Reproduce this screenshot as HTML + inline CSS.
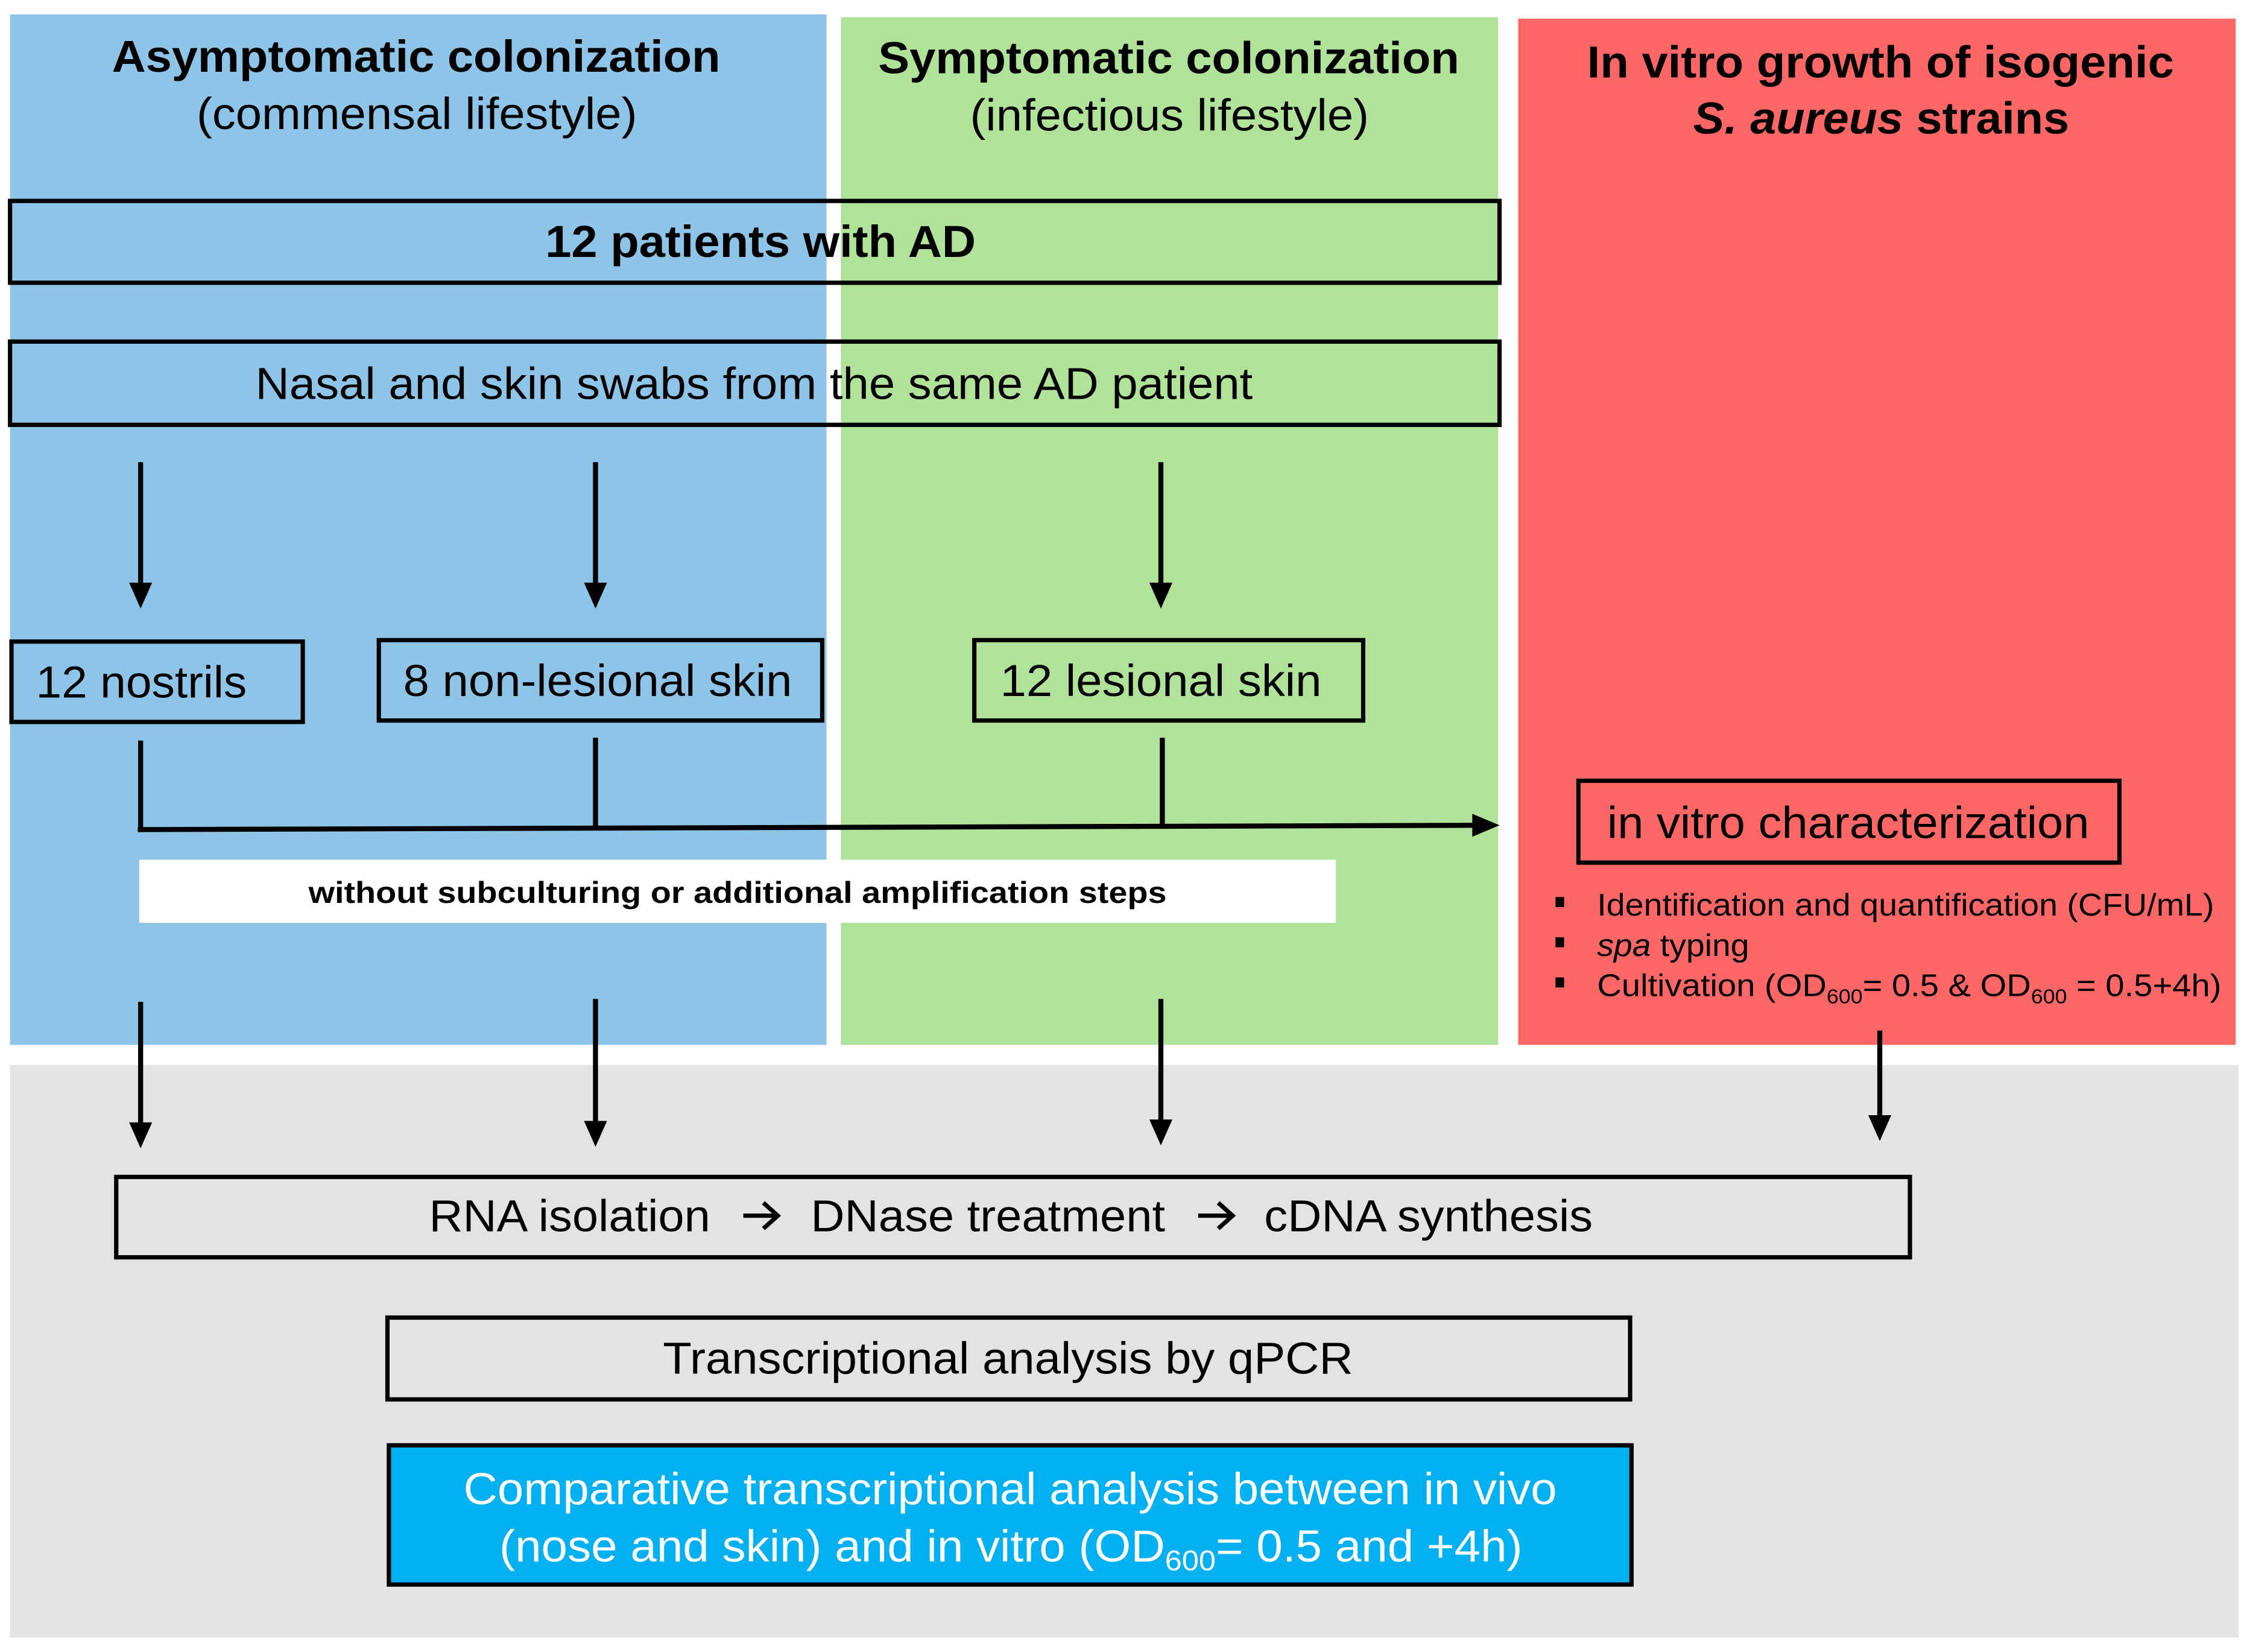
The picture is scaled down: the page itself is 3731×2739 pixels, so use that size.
<!DOCTYPE html>
<html><head><meta charset="utf-8"><style>html,body{margin:0;padding:0;background:#fff}svg{display:block}</style></head>
<body>
<svg xmlns="http://www.w3.org/2000/svg" width="3731" height="2739" viewBox="0 0 1568 1151" preserveAspectRatio="none" font-family="Liberation Sans, Arial, sans-serif">
<rect x="0" y="0" width="1568" height="1151" fill="#fff"/>
<rect x="7" y="10" width="569" height="718" fill="#8EC4E8"/>
<rect x="586" y="12" width="458" height="716" fill="#B0E399"/>
<rect x="1058" y="13" width="500" height="715" fill="#FF6666"/>
<rect x="7" y="742" width="1553" height="399" fill="#E3E3E3"/>

<g font-size="31" text-anchor="start" fill="#000">
<text x="78" y="50" font-weight="bold" textLength="424" lengthAdjust="spacingAndGlyphs">Asymptomatic colonization</text>
<text x="137" y="90" textLength="307" lengthAdjust="spacingAndGlyphs">(commensal lifestyle)</text>
<text x="612" y="51" font-weight="bold" textLength="405" lengthAdjust="spacingAndGlyphs">Symptomatic colonization</text>
<text x="676" y="91" textLength="278" lengthAdjust="spacingAndGlyphs">(infectious lifestyle)</text>
<text x="1106" y="54" font-weight="bold" textLength="409" lengthAdjust="spacingAndGlyphs">In vitro growth of isogenic</text>
<text x="1180" y="93" font-weight="bold" textLength="262" lengthAdjust="spacingAndGlyphs"><tspan font-style="italic">S. aureus</tspan> strains</text>
</g>

<g fill="none" stroke="#000" stroke-width="3">
<rect x="7" y="140" width="1038" height="57"/>
<rect x="7" y="238" width="1038" height="58"/>
<rect x="8" y="447" width="203" height="56"/>
<rect x="264" y="446" width="309" height="56"/>
<rect x="679" y="446" width="271" height="56"/>
<rect x="1100" y="544" width="377" height="57"/>
<rect x="81" y="820" width="1250" height="56"/>
<rect x="270" y="918" width="866" height="57"/>
</g>
<rect x="271" y="1007" width="866" height="97" fill="#00B0F0" stroke="#000" stroke-width="3"/>
<rect x="97" y="599" width="834" height="44" fill="#fff"/>

<g font-size="31" fill="#000">
<text x="380" y="179" font-weight="bold" textLength="300" lengthAdjust="spacingAndGlyphs">12 patients with AD</text>
<text x="178" y="278" textLength="695" lengthAdjust="spacingAndGlyphs">Nasal and skin swabs from the same AD patient</text>
<text x="25" y="486" textLength="147" lengthAdjust="spacingAndGlyphs">12 nostrils</text>
<text x="281" y="485" textLength="271" lengthAdjust="spacingAndGlyphs">8 non-lesional skin</text>
<text x="697" y="485" textLength="224" lengthAdjust="spacingAndGlyphs">12 lesional skin</text>
<text x="1120" y="584" textLength="336" lengthAdjust="spacingAndGlyphs">in vitro characterization</text>
<text x="299" y="858" textLength="196" lengthAdjust="spacingAndGlyphs">RNA isolation</text>
<text x="565" y="858" textLength="247" lengthAdjust="spacingAndGlyphs">DNase treatment</text>
<text x="881" y="858" textLength="229" lengthAdjust="spacingAndGlyphs">cDNA synthesis</text>
<text x="462" y="957" textLength="481" lengthAdjust="spacingAndGlyphs">Transcriptional analysis by qPCR</text>
</g>
<g stroke="#000" stroke-width="3" fill="none">
<path d="M518 847 H541 M532 838 L542 847 L532 856"/>
<path d="M835 847 H858 M849 838 L859 847 L849 856"/>
</g>
<text x="215" y="629" font-size="21" font-weight="bold" textLength="598" lengthAdjust="spacingAndGlyphs">without subculturing or additional amplification steps</text>
<g font-size="31" fill="#fff">
<text x="323" y="1048" textLength="762" lengthAdjust="spacingAndGlyphs">Comparative transcriptional analysis between in vivo</text>
<text x="348" y="1088" textLength="713" lengthAdjust="spacingAndGlyphs">(nose and skin) and in vitro (OD<tspan font-size="20" dy="6">600</tspan><tspan dy="-6">= 0.5 and +4h)</tspan></text>
</g>

<g font-size="22" fill="#000">
<rect x="1084" y="625" width="6" height="7"/>
<rect x="1084" y="653" width="6" height="7"/>
<rect x="1084" y="681" width="6" height="7"/>
<text x="1113" y="638" textLength="430" lengthAdjust="spacingAndGlyphs">Identification and quantification (CFU/mL)</text>
<text x="1113" y="666" textLength="106" lengthAdjust="spacingAndGlyphs"><tspan font-style="italic">spa</tspan> typing</text>
<text x="1113" y="694" textLength="435" lengthAdjust="spacingAndGlyphs">Cultivation (OD<tspan font-size="14" dy="5">600</tspan><tspan dy="-5">= 0.5 &amp; OD</tspan><tspan font-size="14" dy="5">600</tspan><tspan dy="-5"> = 0.5+4h)</tspan></text>
</g>

<g stroke="#000" stroke-width="3.5" fill="none">
<line x1="98" y1="322" x2="98" y2="408"/>
<line x1="415" y1="322" x2="415" y2="408"/>
<line x1="809" y1="322" x2="809" y2="408"/>
<line x1="98" y1="516" x2="98" y2="579"/>
<line x1="415" y1="514" x2="415" y2="578"/>
<line x1="810" y1="514" x2="810" y2="577"/>
<line x1="96" y1="578" x2="1030" y2="575"/>
<line x1="98" y1="698" x2="98" y2="784"/>
<line x1="415" y1="696" x2="415" y2="783"/>
<line x1="809" y1="696" x2="809" y2="782"/>
<line x1="1310" y1="718" x2="1310" y2="779"/>
</g>
<g fill="#000">
<polygon points="90,406 106,406 98,424"/>
<polygon points="407,406 423,406 415,424"/>
<polygon points="801,406 817,406 809,424"/>
<polygon points="1026,567 1026,583 1045,575"/>
<polygon points="90,782 106,782 98,800"/>
<polygon points="407,781 423,781 415,799"/>
<polygon points="801,780 817,780 809,798"/>
<polygon points="1302,777 1318,777 1310,795"/>
</g>
</svg>
</body></html>
